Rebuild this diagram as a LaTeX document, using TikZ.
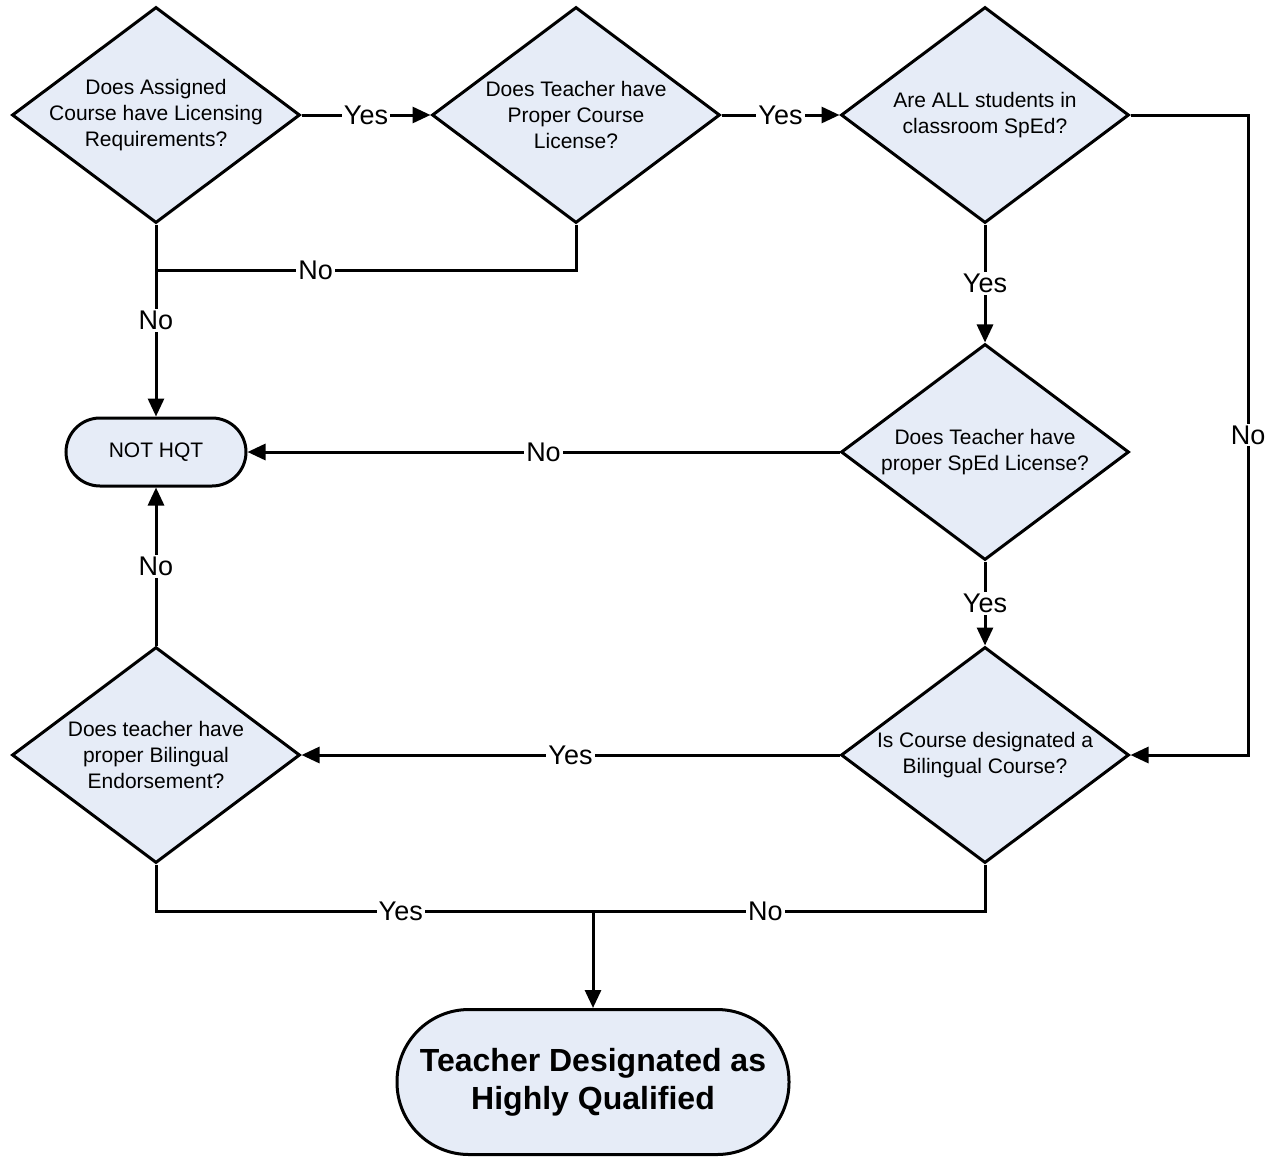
\documentclass[tikz,border=0pt]{standalone}
\usepackage{fontspec}
\setmainfont{Liberation Sans}
\usetikzlibrary{shapes.geometric,arrows.meta}
\definecolor{boxfill}{RGB}{230,236,247}

\begin{document}
\begin{tikzpicture}[x=0.5pt,y=-0.5pt,
    decision/.style={diamond,draw,fill=boxfill,line width=1.5pt,minimum width=144pt,minimum height=108pt,inner sep=0pt},
    qtext/.style={font=\fontsize{10.5}{13}\selectfont,align=center},
    terminal/.style={rectangle,rounded corners=17pt,draw,fill=boxfill,line width=1.5pt,minimum width=90pt,minimum height=34pt,font=\fontsize{10.5}{13}\selectfont},
    link/.style={line width=1.5pt},
    flowarrow/.style={link,-{Triangle[length=9pt,width=8pt]}},
    lbl/.style={fill=white,inner sep=1pt,font=\fontsize{13.5}{15}\selectfont}]
        \useasboundingbox (0,0) rectangle (1272,1156);

        % top row of questions
        \node[decision,label={[qtext]center:Does Assigned\\Course have Licensing\\Requirements?}] (q1) at (156,115) {};
        \node[decision,label={[qtext]center:Does Teacher have\\Proper Course\\License?}] (q2) at (576,115) {};
        \node[decision,label={[qtext]center:Are ALL students in\\classroom SpEd?}] (q3) at (985,115) {};

        % right column
        \node[decision,label={[qtext]center:Does Teacher have\\proper SpEd License?}] (q4) at (985,452) {};
        \node[decision,label={[qtext]center:Is Course designated a\\Bilingual Course?}] (q5) at (985,755) {};

        % left column
        \node[decision,label={[qtext]center:Does teacher have\\proper Bilingual\\Endorsement?}] (q6) at (156,755) {};
        \node[terminal] (nothqt) at (156,452) {NOT HQT};

        % outcome
        \node[terminal,minimum width=196pt,minimum height=72.5pt,rounded corners=36pt,align=center,
              font=\bfseries\fontsize{16}{19}\selectfont] (hqt) at (593,1082) {Teacher Designated as\\Highly Qualified};

        \coordinate (nojoin) at (156,270);
        \coordinate (yesjoin) at (593,911);
        \coordinate (rightrun) at (1248,115);

        % connectors
        \draw[flowarrow] (q1) -- node[lbl]{Yes} (q2);
        \draw[flowarrow] (q2) -- node[lbl]{Yes} (q3);
        \draw[flowarrow] (q3.east) -- (rightrun) -- node[lbl]{No} (rightrun |- q5.east) -- (q5.east);
        \draw[flowarrow] (q3) -- node[lbl]{Yes} (q4);
        \draw[flowarrow] (q4) -- node[lbl]{Yes} (q5);
        \draw[flowarrow] (q4) -- node[lbl]{No} (nothqt);
        \draw[flowarrow] (q5) -- node[lbl]{Yes} (q6);
        \draw[flowarrow] (q6) -- node[lbl]{No} (nothqt);
        \draw[flowarrow] (q1) -- node[lbl]{No} (nothqt);
        \draw[link] (q2.south) -- (q2.south |- nojoin) -- node[lbl,pos=0.62]{No} (nojoin);
        \draw[link] (q6.south) -- (q6.south |- yesjoin) -- node[lbl,pos=0.56]{Yes} (yesjoin);
        \draw[link] (q5.south) -- (q5.south |- yesjoin) -- node[lbl,pos=0.56]{No} (yesjoin);
        \draw[flowarrow] (yesjoin) -- (hqt);
    \end{tikzpicture}
\end{document}
